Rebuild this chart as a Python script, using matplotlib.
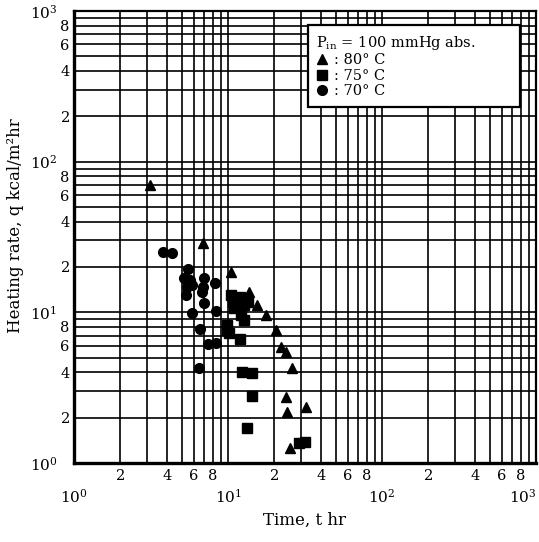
import matplotlib
matplotlib.use("Agg")
import matplotlib.pyplot as plt
import numpy as np
from matplotlib.ticker import LogLocator, FuncFormatter, LogFormatterSciNotation

plt.rcParams["font.family"] = ["DejaVu Serif"]
plt.rcParams["mathtext.fontset"] = "dejavuserif"

# 80 C (triangles)
t_80 = [3.1, 6.9, 10.4, 13.6, 15.5, 17.7, 20.6, 22.2, 23.9, 26.1, 23.9, 24.3, 32.2, 25.4]
q_80 = [70, 29, 18.5, 13.6, 11.2, 9.6, 7.6, 5.9, 5.45, 4.3, 2.74, 2.18, 2.35, 1.26]

# 75 C (squares)
t_75 = [10.5, 11.9, 10.7, 12.2, 11.0, 12.8, 13.4, 12.2, 12.8, 9.8, 9.9, 10.2, 11.9,
        12.4, 14.4, 14.4, 13.2, 29.0, 31.7]
q_75 = [13.0, 12.7, 11.7, 11.7, 10.7, 11.2, 11.7, 9.6, 8.9, 8.2, 7.6, 7.3, 6.65,
        4.0, 3.95, 2.78, 1.7, 1.36, 1.38]

# 70 C (circles)
t_70 = [3.77, 4.31, 5.47, 5.15, 5.63, 5.39, 5.8, 5.35, 6.94, 6.84, 6.8, 8.18, 7.0,
        5.8, 8.3, 6.6, 7.4, 8.3, 6.5]
q_70 = [25.1, 24.7, 19.4, 16.9, 16.4, 14.7, 15.2, 13.0, 16.9, 14.7, 13.6, 15.6, 11.5,
        9.9, 10.2, 7.75, 6.2, 6.25, 4.3]

decades = [1, 10, 100, 1000]
legend_title = r"P$_{\mathrm{in}}$ = 100 mmHg abs."
labels = [": 80° C", ": 75° C", ": 70° C"]


def minor_label(v, pos):
    m = int(round(v / 10 ** np.floor(np.log10(v) + 1e-9)))
    return str(m) if m in (2, 4, 6, 8) else ""


fig = plt.figure(figsize=(5.39, 5.42), dpi=100)
ax = fig.add_axes([0.1373, 0.1458, 0.857, 0.834])
ax.set_xscale("log")
ax.set_yscale("log")

ax.plot(t_80, q_80, "^", color="black", markersize=7, linestyle="none", label=labels[0])
ax.plot(t_75, q_75, "s", color="black", markersize=6.5, linestyle="none", label=labels[1])
ax.plot(t_70, q_70, "o", color="black", markersize=7, linestyle="none", label=labels[2])

ax.set_xticks(decades)
ax.set_yticks(decades)
ax.set_xlim(decades[0], decades[-1])
ax.set_ylim(decades[0], decades[-1])
for axis in (ax.xaxis, ax.yaxis):
    axis.set_major_formatter(LogFormatterSciNotation())
    axis.set_minor_locator(LogLocator(base=10, subs=np.arange(2, 10), numticks=20))
    axis.set_minor_formatter(FuncFormatter(minor_label))

ax.grid(True, which="both", color="black", linewidth=1.2)
ax.set_axisbelow(True)
ax.tick_params(which="both", length=0, labelsize=10.5)
ax.tick_params(axis="x", which="minor", pad=4)
ax.tick_params(axis="x", which="major", pad=18, labelsize=11)
ax.tick_params(axis="y", which="minor", pad=3)
ax.tick_params(axis="y", which="major", pad=12, labelsize=11)

# the last decade label sits on the figure edge
ax.xaxis.get_majorticklabels()[-1].set_horizontalalignment("right")

for side in ("left", "bottom"):
    ax.spines[side].set_linewidth(2.4)
for side in ("top", "right"):
    ax.spines[side].set_linewidth(1.6)

ax.set_xlabel("Time, t hr", fontsize=12, labelpad=4)
ax.set_ylabel("Heating rate, q kcal/m²hr", fontsize=12)
ax.yaxis.set_label_coords(-0.108, 0.525)

leg = ax.legend(title=legend_title, loc="upper left", bbox_to_anchor=(0.506, 0.79, 0.459, 0.179),
                mode="expand", borderaxespad=0, fontsize=10.5, title_fontsize=10.5,
                fancybox=False, framealpha=1, edgecolor="black", handlelength=0.8,
                handletextpad=0.4, labelspacing=0.1, borderpad=0.6)
leg._legend_box.align = "left"
leg.get_frame().set_linewidth(1.6)

fig.savefig("out.png", dpi=100)
